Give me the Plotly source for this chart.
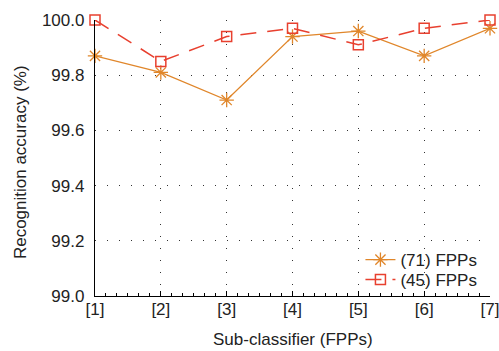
import plotly.graph_objects as go

categories = [1, 2, 3, 4, 5, 6, 7]
tick_labels = ["[1]", "[2]", "[3]", "[4]", "[5]", "[6]", "[7]"]
fpp71 = [99.87, 99.81, 99.71, 99.94, 99.96, 99.87, 99.97]
fpp45 = [100.0, 99.85, 99.94, 99.97, 99.91, 99.97, 100.0]
y_ticks = [99.0, 99.2, 99.4, 99.6, 99.8, 100.0]

orange = "#e0862a"
red = "#e8402f"
FONT = "Liberation Sans, Arial, sans-serif"

fig = go.Figure()
fig.add_trace(go.Scatter(
    x=categories, y=fpp71, name="(71) FPPs", mode="lines+markers",
    line=dict(color=orange, width=1.3),
    marker=dict(symbol="asterisk-open", size=12, color=orange, line=dict(color=orange, width=1.3)),
    cliponaxis=False, legend="legend",
))
fig.add_trace(go.Scatter(
    x=categories, y=fpp45, name="(45) FPPs", mode="lines+markers",
    line=dict(color=red, width=1.5, dash="16px,11px"),
    marker=dict(symbol="square-open", size=10, color=red, line=dict(color=red, width=1.5)),
    cliponaxis=False, legend="legend2",
))

leg = dict(x=0.672, xanchor="left", yanchor="middle",
           bgcolor="rgba(0,0,0,0)", font=dict(size=17, family=FONT, color="#222"),
           itemwidth=30)

fig.update_layout(
    width=499, height=351,
    margin=dict(l=95, r=9, t=20, b=55, autoexpand=False),
    paper_bgcolor="white", plot_bgcolor="white",
    font=dict(family=FONT, size=17, color="#222"),
    showlegend=True,
    legend=dict(leg, y=0.130),
    legend2=dict(leg, y=0.058),
    xaxis=dict(
        range=[1, 7], tickvals=categories, ticktext=tick_labels,
        showgrid=True, gridcolor="#333", griddash="1px,11px", gridwidth=1,
        showline=True, linecolor="black", linewidth=1.3,
        ticks="inside", ticklen=5, tickcolor="black", tickwidth=1,
        minor=dict(dtick=1/6, tick0=1, ticks="inside", ticklen=3, tickcolor="black", showgrid=False),
        zeroline=False, mirror=False, automargin=False,
        tickfont=dict(size=17), ticklabelstandoff=-3, ticklabeloverflow="allow",
    ),
    yaxis=dict(
        range=[99.0, 100.0], tickvals=y_ticks, ticktext=["%.1f" % v for v in y_ticks],
        showgrid=True, gridcolor="#333", griddash="1px,11px", gridwidth=1,
        showline=True, linecolor="black", linewidth=1.3,
        ticks="", zeroline=False, automargin=False,
        tickfont=dict(size=17), ticklabelstandoff=6,
    ),
    annotations=[
        dict(text="Sub-classifier (FPPs)", xref="paper", yref="paper",
             x=0.5, y=-0.158, xanchor="center", yanchor="middle", showarrow=False,
             font=dict(size=17, family=FONT, color="#222")),
        dict(text="Recognition accuracy (%)", xref="paper", yref="paper",
             x=-0.19, y=0.485, xanchor="center", yanchor="middle", showarrow=False,
             textangle=-90, font=dict(size=17, family=FONT, color="#222")),
    ],
)
fig.write_html("out.html", config={"displayModeBar": False},
               post_script="document.body.style.margin='0';")
